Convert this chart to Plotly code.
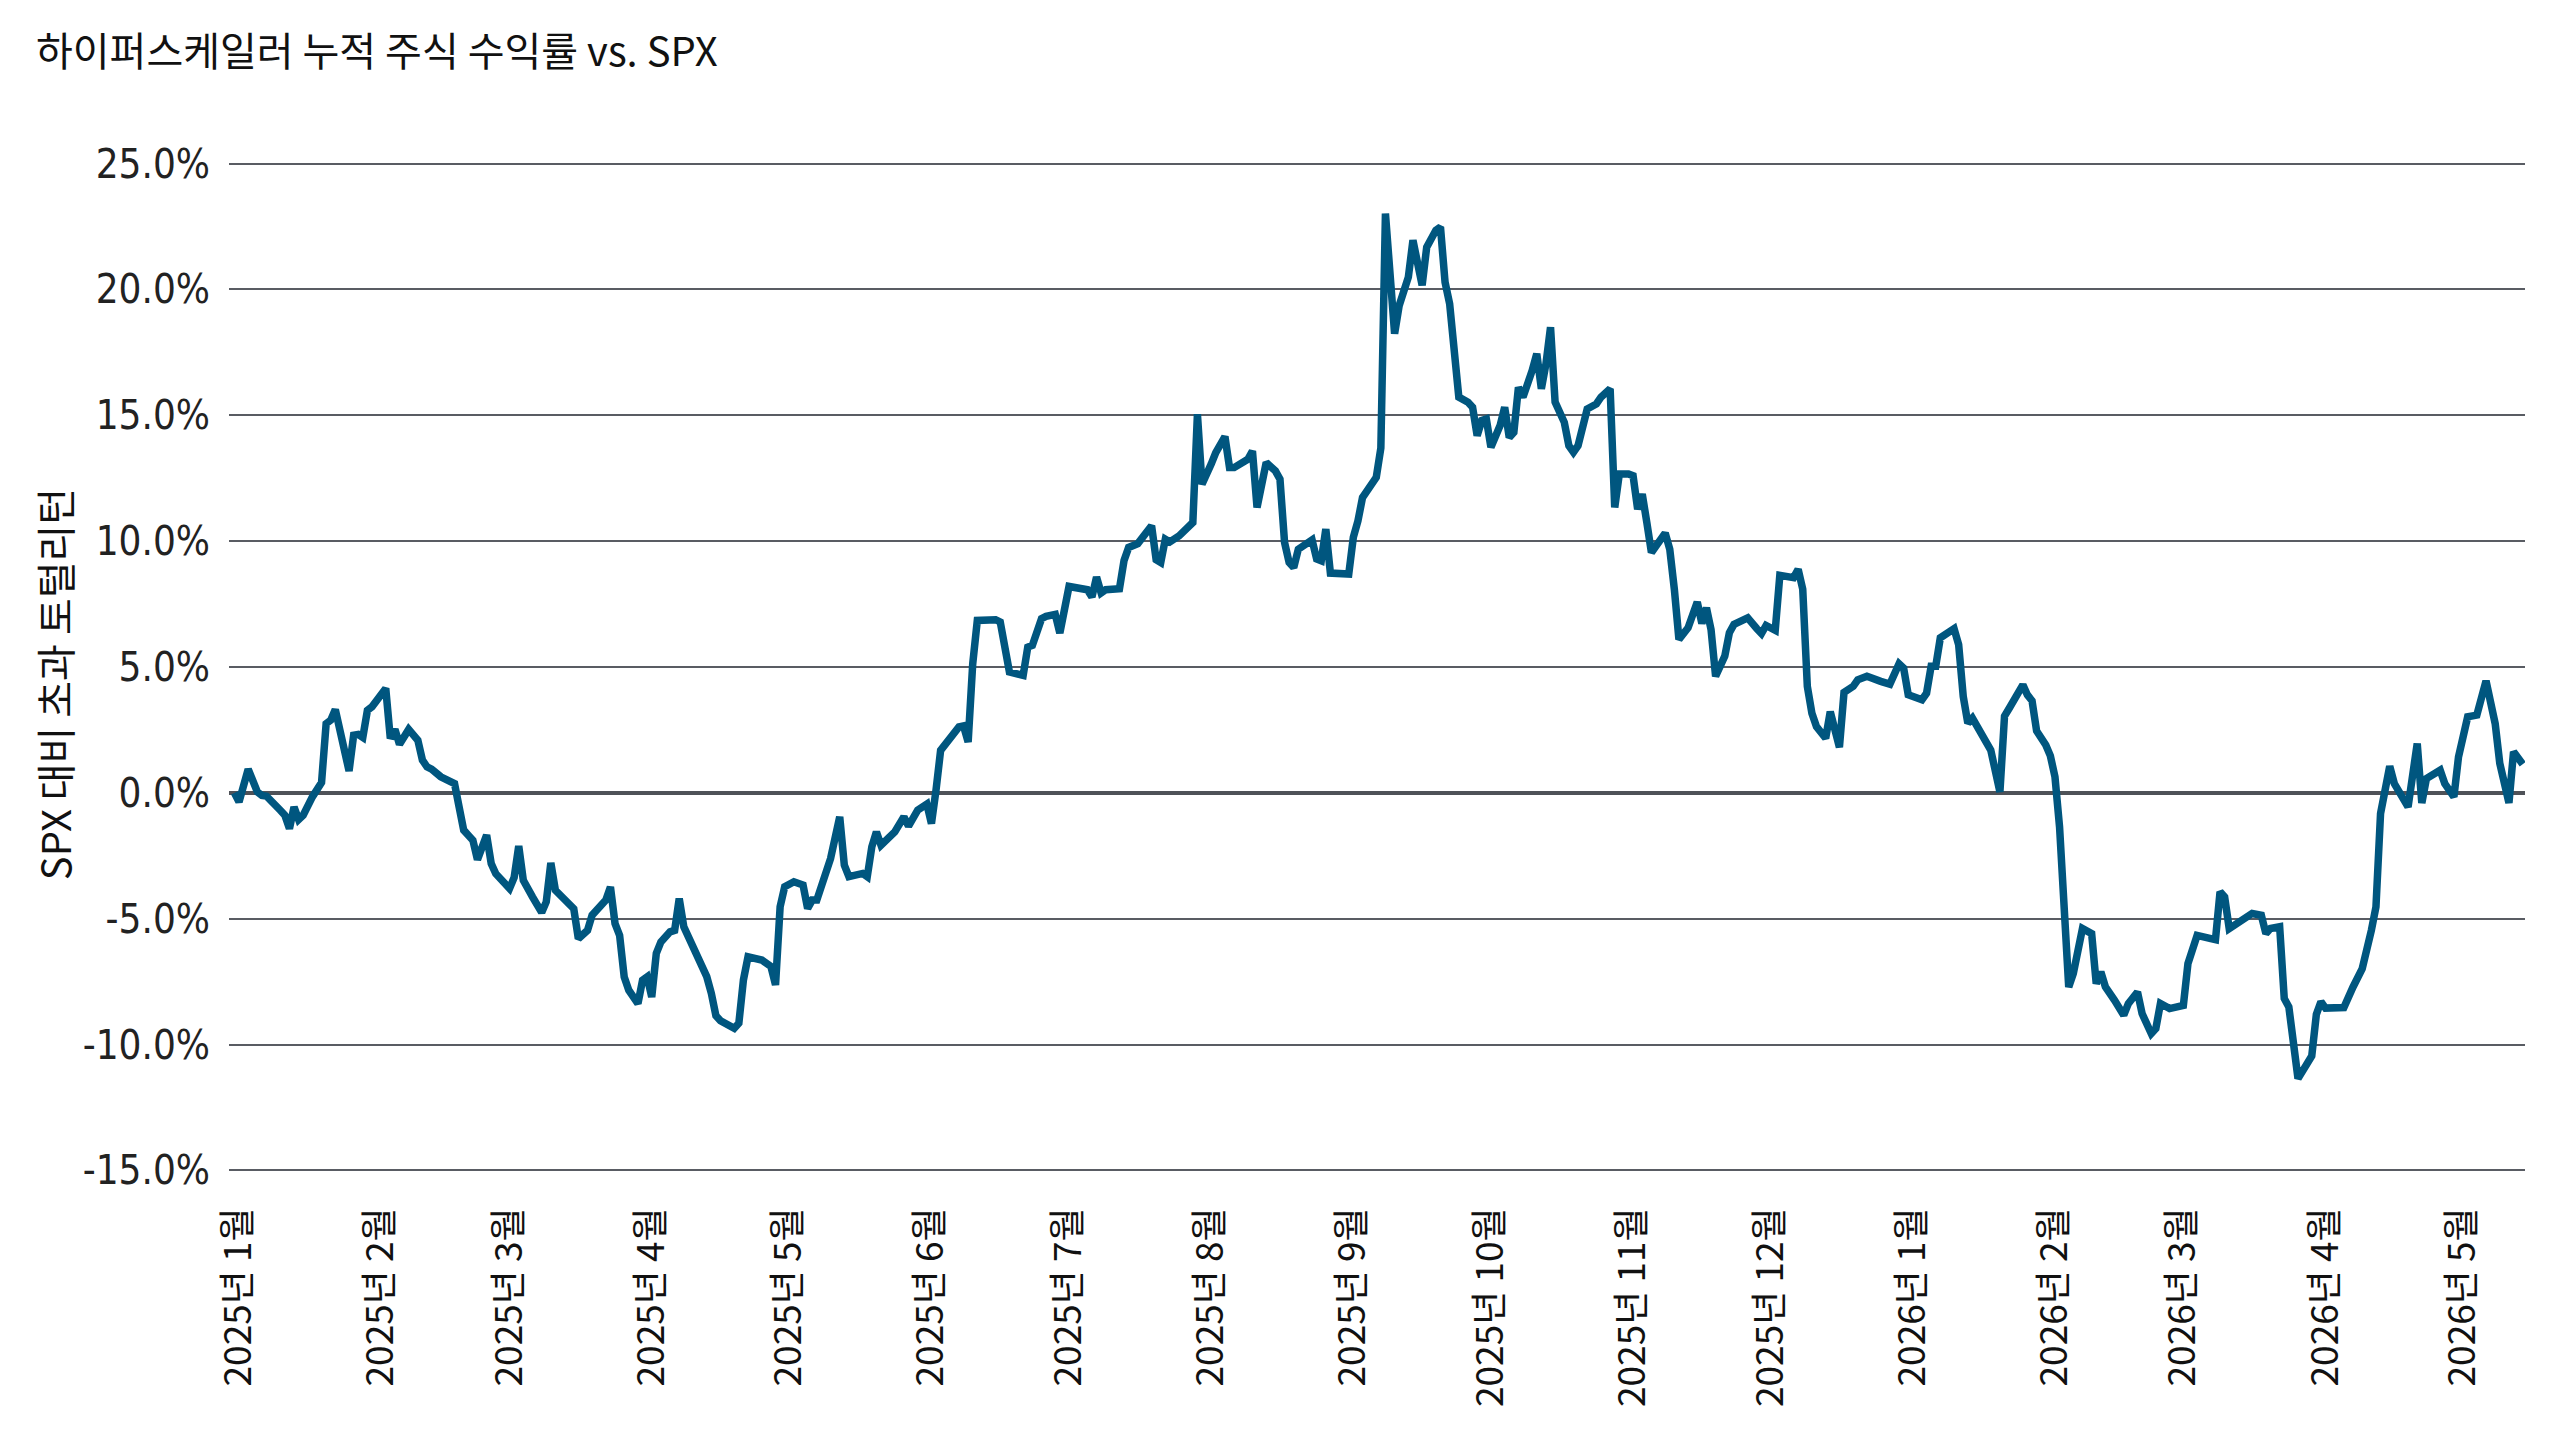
import pandas as pd
import plotly.graph_objects as go

# Text
TITLE = "하이퍼스케일러 누적 주식 수익률 vs. SPX"
Y_TITLE = "SPX 대비 초과 토털리턴"

# Data : cumulative excess total return vs SPX (%)
dates = [
    "2024-12-31", "2025-01-01", "2025-01-03", "2025-01-05", "2025-01-06", "2025-01-07",
    "2025-01-10", "2025-01-11", "2025-01-12", "2025-01-13", "2025-01-14", "2025-01-15",
    "2025-01-17", "2025-01-19", "2025-01-20", "2025-01-21", "2025-01-22", "2025-01-25",
    "2025-01-26", "2025-01-27", "2025-01-28", "2025-01-29", "2025-01-30", "2025-01-31",
    "2025-02-01", "2025-02-02", "2025-02-03", "2025-02-04", "2025-02-05", "2025-02-07",
    "2025-02-09", "2025-02-10", "2025-02-11", "2025-02-12", "2025-02-14", "2025-02-16",
    "2025-02-17", "2025-02-18", "2025-02-19", "2025-02-20", "2025-02-21", "2025-02-22",
    "2025-02-24", "2025-02-25", "2025-02-26", "2025-03-01", "2025-03-02", "2025-03-03",
    "2025-03-04", "2025-03-06", "2025-03-08", "2025-03-09", "2025-03-10", "2025-03-11",
    "2025-03-13", "2025-03-15", "2025-03-16", "2025-03-17", "2025-03-18", "2025-03-19",
    "2025-03-21", "2025-03-22", "2025-03-23", "2025-03-24", "2025-03-25", "2025-03-26",
    "2025-03-27", "2025-03-29", "2025-03-30", "2025-03-31", "2025-04-01", "2025-04-02",
    "2025-04-03", "2025-04-05", "2025-04-06", "2025-04-07", "2025-04-08", "2025-04-09",
    "2025-04-11", "2025-04-13", "2025-04-14", "2025-04-15", "2025-04-16", "2025-04-19",
    "2025-04-20", "2025-04-21", "2025-04-22", "2025-04-25", "2025-04-27", "2025-04-28",
    "2025-04-29", "2025-04-30", "2025-05-02", "2025-05-04", "2025-05-05", "2025-05-06",
    "2025-05-07", "2025-05-10", "2025-05-12", "2025-05-13", "2025-05-14", "2025-05-17",
    "2025-05-18", "2025-05-19", "2025-05-20", "2025-05-21", "2025-05-24", "2025-05-26",
    "2025-05-27", "2025-05-29", "2025-05-31", "2025-06-01", "2025-06-02", "2025-06-03",
    "2025-06-07", "2025-06-08", "2025-06-09", "2025-06-10", "2025-06-11", "2025-06-15",
    "2025-06-16", "2025-06-18", "2025-06-21", "2025-06-22", "2025-06-23", "2025-06-25",
    "2025-06-26", "2025-06-28", "2025-06-29", "2025-07-01", "2025-07-05", "2025-07-06",
    "2025-07-07", "2025-07-08", "2025-07-09", "2025-07-12", "2025-07-13", "2025-07-14",
    "2025-07-16", "2025-07-18", "2025-07-19", "2025-07-20", "2025-07-21", "2025-07-22",
    "2025-07-23", "2025-07-25", "2025-07-27", "2025-07-28", "2025-07-29", "2025-07-30",
    "2025-08-01", "2025-08-02", "2025-08-04", "2025-08-05", "2025-08-06", "2025-08-09",
    "2025-08-10", "2025-08-11", "2025-08-13", "2025-08-15", "2025-08-16", "2025-08-17",
    "2025-08-18", "2025-08-19", "2025-08-20", "2025-08-21", "2025-08-23", "2025-08-24",
    "2025-08-25", "2025-08-26", "2025-08-27", "2025-08-31", "2025-09-01", "2025-09-02",
    "2025-09-03", "2025-09-06", "2025-09-07", "2025-09-08", "2025-09-09", "2025-09-10",
    "2025-09-11", "2025-09-13", "2025-09-14", "2025-09-15", "2025-09-16", "2025-09-17",
    "2025-09-18", "2025-09-19", "2025-09-20", "2025-09-21", "2025-09-22", "2025-09-23",
    "2025-09-24", "2025-09-26", "2025-09-27", "2025-09-28", "2025-09-29", "2025-09-30",
    "2025-10-01", "2025-10-03", "2025-10-04", "2025-10-05", "2025-10-06", "2025-10-07",
    "2025-10-08", "2025-10-10", "2025-10-11", "2025-10-12", "2025-10-13", "2025-10-14",
    "2025-10-15", "2025-10-17", "2025-10-18", "2025-10-19", "2025-10-20", "2025-10-22",
    "2025-10-24", "2025-10-25", "2025-10-27", "2025-10-28", "2025-10-29", "2025-10-31",
    "2025-11-01", "2025-11-02", "2025-11-03", "2025-11-04", "2025-11-05", "2025-11-08",
    "2025-11-09", "2025-11-10", "2025-11-11", "2025-11-13", "2025-11-15", "2025-11-16",
    "2025-11-17", "2025-11-18", "2025-11-19", "2025-11-21", "2025-11-22", "2025-11-23",
    "2025-11-26", "2025-11-28", "2025-11-29", "2025-11-30", "2025-12-02", "2025-12-03",
    "2025-12-06", "2025-12-07", "2025-12-08", "2025-12-09", "2025-12-10", "2025-12-11",
    "2025-12-13", "2025-12-14", "2025-12-16", "2025-12-17", "2025-12-19", "2025-12-20",
    "2025-12-22", "2025-12-25", "2025-12-27", "2025-12-29", "2025-12-30", "2025-12-31",
    "2026-01-03", "2026-01-04", "2026-01-05", "2026-01-06", "2026-01-07", "2026-01-10",
    "2026-01-11", "2026-01-12", "2026-01-13", "2026-01-14", "2026-01-16", "2026-01-18",
    "2026-01-20", "2026-01-21", "2026-01-22", "2026-01-25", "2026-01-26", "2026-01-27",
    "2026-01-28", "2026-01-30", "2026-01-31", "2026-02-01", "2026-02-02", "2026-02-03",
    "2026-02-04", "2026-02-05", "2026-02-06", "2026-02-07", "2026-02-09", "2026-02-10",
    "2026-02-11", "2026-02-12", "2026-02-14", "2026-02-16", "2026-02-17", "2026-02-19",
    "2026-02-20", "2026-02-22", "2026-02-23", "2026-02-24", "2026-02-26", "2026-03-01",
    "2026-03-02", "2026-03-04", "2026-03-07", "2026-03-08", "2026-03-09", "2026-03-10",
    "2026-03-11", "2026-03-14", "2026-03-16", "2026-03-18", "2026-03-19", "2026-03-20",
    "2026-03-22", "2026-03-23", "2026-03-24", "2026-03-26", "2026-03-29", "2026-03-30",
    "2026-03-31", "2026-04-01", "2026-04-05", "2026-04-07", "2026-04-09", "2026-04-11",
    "2026-04-12", "2026-04-13", "2026-04-15", "2026-04-16", "2026-04-19", "2026-04-21",
    "2026-04-22", "2026-04-23", "2026-04-26", "2026-04-27", "2026-04-29", "2026-04-30",
    "2026-05-01", "2026-05-02", "2026-05-04", "2026-05-06", "2026-05-08", "2026-05-09",
    "2026-05-11", "2026-05-12", "2026-05-14",
]

excess_return = [
    0.00, -0.36, 0.94, 0.04, -0.10, -0.13,
    -0.69, -0.89, -1.42, -0.56, -1.06, -0.89,
    -0.16, 0.41, 2.75, 2.89, 3.31, 0.87,
    2.29, 2.32, 2.20, 3.28, 3.42, 3.66,
    3.79, 4.15, 2.16, 2.52, 1.93, 2.52,
    2.09, 1.30, 1.03, 0.94, 0.64, 0.41,
    0.37, -0.56, -1.48, -1.68, -1.88, -2.65,
    -1.68, -2.81, -3.21, -3.80, -3.36, -2.11,
    -3.47, -4.13, -4.75, -4.33, -2.78, -3.87,
    -4.20, -4.60, -5.79, -5.59, -5.46, -4.86,
    -4.46, -4.26, -3.74, -5.19, -5.66, -7.31,
    -7.84, -8.37, -7.44, -7.31, -8.11, -6.38,
    -5.92, -5.52, -5.46, -4.20, -5.32, -5.72,
    -6.58, -7.30, -7.96, -8.85, -9.05, -9.35,
    -9.15, -7.43, -6.51, -6.64, -6.90, -7.63,
    -4.52, -3.73, -3.53, -3.66, -4.59, -4.26,
    -4.26, -2.61, -0.95, -2.87, -3.33, -3.20,
    -3.33, -2.14, -1.55, -2.08, -1.55, -0.95,
    -1.32, -0.69, -0.45, -1.22, 0.11, 1.69,
    2.62, 2.66, 2.02, 5.13, 6.85, 6.88,
    6.79, 4.80, 4.67, 5.79, 5.86, 6.92,
    7.01, 7.09, 6.35, 8.20, 8.07, 7.78,
    8.57, 7.94, 8.07, 8.11, 9.23, 9.75,
    9.90, 10.35, 10.61, 9.26, 9.15, 10.08,
    9.97, 10.21, 10.63, 10.74, 15.04, 12.26,
    13.06, 13.52, 14.15, 12.92, 12.92, 13.25,
    13.58, 11.34, 13.12, 12.79, 12.46, 9.95,
    9.15, 8.95, 9.68, 9.81, 10.05, 9.29,
    9.22, 10.48, 8.73, 8.69, 10.15, 10.80,
    11.73, 12.53, 13.70, 23.01, 20.03, 18.24,
    19.36, 20.49, 21.95, 21.09, 20.16, 21.68,
    22.02, 22.35, 22.48, 20.29, 19.43, 17.11,
    15.72, 15.52, 15.32, 14.19, 14.79, 14.85,
    13.73, 14.59, 15.32, 14.12, 14.32, 16.11,
    15.72, 16.78, 17.44, 16.05, 17.04, 18.50,
    15.52, 14.72, 13.79, 13.53, 13.79, 15.25,
    15.45, 15.72, 16.05, 11.34, 12.67, 12.67,
    12.60, 11.27, 11.87, 10.74, 9.55, 10.32,
    9.68, 8.09, 6.10, 6.56, 7.58, 6.73,
    7.35, 6.49, 4.63, 5.43, 6.36, 6.69,
    6.95, 6.52, 6.33, 6.65, 6.46, 8.64,
    8.55, 8.88, 8.09, 4.23, 3.16, 2.63,
    2.17, 3.23, 1.81, 3.99, 4.23, 4.49,
    4.63, 4.43, 4.32, 5.13, 4.96, 3.90,
    3.70, 3.96, 5.03, 5.03, 6.16, 6.52,
    5.89, 3.83, 2.77, 2.97, 2.30, 1.70,
    0.04, 3.05, 3.35, 4.29, 3.89, 3.66,
    2.46, 1.90, 1.47, 0.64, -1.35, -4.66,
    -7.71, -7.18, -6.12, -5.39, -5.59, -7.58,
    -7.11, -7.71, -8.24, -8.83, -8.37, -7.91,
    -8.77, -9.56, -9.36, -8.37, -8.57, -8.44,
    -6.78, -5.66, -5.79, -5.83, -3.93, -4.13,
    -5.39, -5.06, -4.79, -4.86, -5.59, -5.39,
    -5.32, -8.17, -8.50, -11.35, -10.45, -8.80,
    -8.30, -8.55, -8.53, -7.71, -6.98, -5.46,
    -4.53, -0.82, 1.06, 0.37, -0.56, 1.96,
    -0.40, 0.57, 0.90, 0.37, -0.16, 1.43,
    2.09, 3.02, 3.09, 4.45, 2.75, 1.17,
    -0.40, 1.63, 1.14,
]

# Axis ticks
y_tick_vals = [25, 20, 15, 10, 5, 0, -5, -10, -15]
y_tick_text = ["25.0%", "20.0%", "15.0%", "10.0%", "5.0%", "0.0%", "-5.0%", "-10.0%", "-15.0%"]

month_ticks = pd.date_range("2025-01-01", "2026-05-01", freq="MS")
month_text = [f"{d.year}년 {d.month}월" for d in month_ticks]

LINE_COLOR = "#00567f"
GRID_COLOR = "#595c63"
KR_FONT = "Noto Sans CJK KR, Noto Sans, sans-serif"
NARROW_FONT = "Liberation Sans Narrow, DejaVu Sans Condensed, Noto Sans CJK KR, sans-serif"


fig = go.Figure()
fig.add_trace(
    go.Scatter(
        x = pd.to_datetime(dates),
        y = excess_return,
        mode = "lines",
        line = dict(color = LINE_COLOR, width = 7.5),
        showlegend = False,
    )
)

fig.update_layout(
    width = 2560,
    height = 1440,
    paper_bgcolor = "white",
    plot_bgcolor = "white",
    margin = dict(l = 229, r = 35, t = 161, b = 267, pad = 0),
    title = dict(
        text = TITLE,
        x = 36 / 2560,
        xanchor = "left",
        xref = "container",
        y = 1 - 52 / 1440,
        yanchor = "middle",
        yref = "container",
        font = dict(family = KR_FONT, size = 40, color = "#111111"),
    ),
    annotations = [
        dict(
            text = Y_TITLE,
            textangle = -90,
            xref = "paper",
            x = 0,
            xshift = -175,
            xanchor = "center",
            yref = "paper",
            y = 0.483,
            yanchor = "middle",
            showarrow = False,
            font = dict(family = KR_FONT, size = 40, color = "#111111"),
        )
    ],
)

fig.update_xaxes(
    type = "date",
    range = ["2024-12-29 19:40", "2026-05-14 12:00"],
    tickvals = month_ticks,
    ticktext = month_text,
    tickangle = -90,
    tickfont = dict(family = KR_FONT, size = 37, color = "#111111"),
    ticks = "",
    ticklabelstandoff = 26,
    showgrid = False,
    zeroline = False,
    showline = False,
)

fig.update_yaxes(
    range = [-15.1, 25.1],
    tickvals = y_tick_vals,
    ticktext = y_tick_text,
    tickfont = dict(family = NARROW_FONT, size = 40, color = "#222222"),
    ticks = "",
    ticklabelstandoff = 18,
    showgrid = True,
    gridcolor = GRID_COLOR,
    gridwidth = 2,
    zeroline = True,
    zerolinecolor = "#4f5258",
    zerolinewidth = 3.5,
    showline = False,
)

fig.write_html(
    "out.html",
    config = {"displayModeBar": False},
    post_script = "document.body.style.margin='0';",
)
